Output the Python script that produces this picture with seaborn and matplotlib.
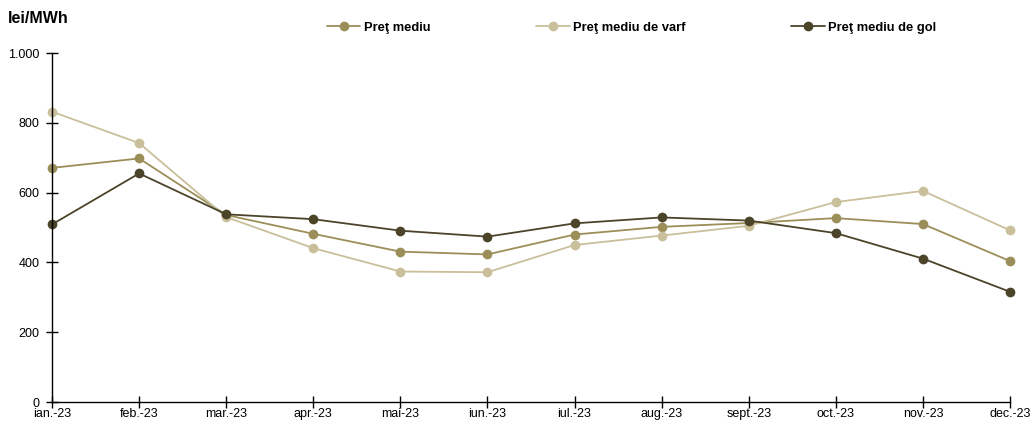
import pandas as pd
import matplotlib
matplotlib.use("Agg")
import matplotlib.pyplot as plt
import matplotlib.ticker as mticker
import seaborn as sns

luni = ['ian.-23', 'feb.-23', 'mar.-23', 'apr.-23', 'mai-23', 'iun.-23',
        'iul.-23', 'aug.-23', 'sept.-23', 'oct.-23', 'nov.-23', 'dec.-23']

pret_mediu = [671, 698, 536, 482, 431, 423, 480, 502, 513, 527, 510, 404]
pret_varf = [832, 742, 530, 441, 374, 372, 450, 477, 505, 573, 605, 492]
pret_gol = [509, 655, 538, 524, 491, 474, 512, 529, 520, 484, 411, 316]

serii = ['Preţ mediu', 'Preţ mediu de varf', 'Preţ mediu de gol']
culori = ['#9b8e58', '#c9bf9b', '#4b4429']

df = pd.DataFrame({
    'luna': list(range(len(luni))) * 3,
    'valoare': pret_mediu + pret_varf + pret_gol,
    'serie': [serii[0]] * 12 + [serii[1]] * 12 + [serii[2]] * 12,
})

sns.set_style('white')
plt.rcParams['font.family'] = ['Liberation Sans', 'DejaVu Sans']
plt.rcParams['text.color'] = 'black'

fig = plt.figure(figsize=(10.32, 4.21), dpi=100)
ax = fig.add_axes([0.0504, 0.045, 0.9283, 0.829])

for nume, culoare in zip(serii, culori):
    sns.lineplot(data=df[df['serie'] == nume], x='luna', y='valoare', ax=ax,
                 color=culoare, marker='o', markersize=7, markeredgewidth=0,
                 linewidth=1.3, label=nume, legend=False, clip_on=False)

ax.set_xlim(0, 11)
ax.set_ylim(0, 1000)
ax.set_xticks(range(len(luni)))
ax.set_xticklabels(luni)
ax.set_yticks([0, 200, 400, 600, 800, 1000])
ax.yaxis.set_major_formatter(mticker.FuncFormatter(lambda v, p: f'{int(v):,}'.replace(',', '.')))
ax.set_xlabel('')
ax.set_ylabel('')

for s in ['top', 'right']:
    ax.spines[s].set_visible(False)
for s in ['left', 'bottom']:
    ax.spines[s].set_color('black')
    ax.spines[s].set_linewidth(1.0)
ax.tick_params(axis='both', direction='inout', length=8, width=1.0,
               colors='black', labelcolor='black', labelsize=9,
               bottom=True, left=True)
ax.tick_params(axis='y', pad=5)
ax.tick_params(axis='x', pad=0.5)

fig.text(0.008, 0.955, 'lei/MWh', fontsize=11.5, fontweight='bold', va='center')

handles, labels = ax.get_legend_handles_labels()
fig.legend(handles, labels, loc='center', bbox_to_anchor=(0.612, 0.934), ncol=3,
           frameon=False, handlelength=2.6, handletextpad=0.25, columnspacing=8.2,
           prop={'weight': 'bold', 'size': 9.3})

fig.savefig('out.png', dpi=100)
